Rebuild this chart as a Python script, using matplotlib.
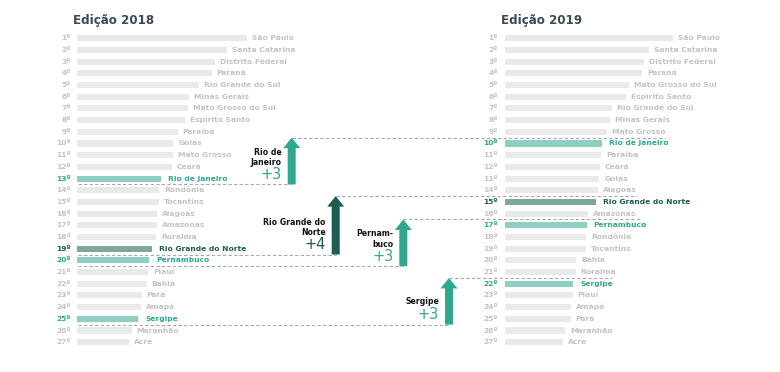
import matplotlib.pyplot as plt
from matplotlib.patches import FancyArrow

# ranking dos estados - edição 2018 e 2019 (escala arbitrária)
ufs_2018 = ["São Paulo", "Santa Catarina", "Distrito Federal", "Paraná", "Rio Grande do Sul",
            "Minas Gerais", "Mato Grosso do Sul", "Espírito Santo", "Paraíba", "Goiás",
            "Mato Grosso", "Ceará", "Rio de Janeiro", "Rondônia", "Tocantins", "Alagoas",
            "Amazonas", "Roraima", "Rio Grande do Norte", "Pernambuco", "Piauí", "Bahia",
            "Pará", "Amapá", "Sergipe", "Maranhão", "Acre"]
valores_2018 = [169.7, 149.7, 138.0, 134.7, 122.0, 112.0, 111.3, 108.0, 100.7, 96.3,
                95.7, 94.7, 83.7, 82.3, 82.3, 80.3, 79.7, 79.0, 74.7, 72.0,
                71.3, 69.7, 64.7, 64.0, 61.3, 54.7, 52.3]

ufs_2019 = ["São Paulo", "Santa Catarina", "Distrito Federal", "Paraná", "Mato Grosso do Sul",
            "Espírito Santo", "Rio Grande do Sul", "Minas Gerais", "Mato Grosso", "Rio de Janeiro",
            "Paraíba", "Ceará", "Goiás", "Alagoas", "Rio Grande do Norte", "Amazonas",
            "Pernambuco", "Rondônia", "Tocantins", "Bahia", "Roraima", "Sergipe", "Piauí",
            "Amapá", "Pará", "Maranhão", "Acre"]
valores_2019 = [168.3, 144.0, 139.0, 137.3, 124.3, 120.7, 106.7, 105.0, 101.7, 97.3,
                96.0, 95.0, 94.3, 93.3, 91.0, 83.3, 81.7, 81.0, 80.7, 71.0,
                70.7, 68.3, 67.7, 66.0, 65.7, 60.0, 58.3]

# estados em destaque e o rótulo da seta
destaques = ["Rio de Janeiro", "Rio Grande do Norte", "Pernambuco", "Sergipe"]
rotulos_seta = ["Rio de\nJaneiro", "Rio Grande do\nNorte", "Pernam-\nbuco", "Sergipe"]

# cores
cinza_barra = "#e9e9e9"
cinza_texto = "#c3c3c3"
verde = "#2fa88f"
verde_barra = "#8dd0c1"
escuro = "#1e5c53"
escuro_barra = "#7fa79d"
cor_titulo = "#3b4a56"
cor_dest = {"Rio de Janeiro": (verde_barra, verde, verde),
            "Pernambuco": (verde_barra, verde, verde),
            "Sergipe": (verde_barra, verde, verde),
            "Rio Grande do Norte": (escuro_barra, escuro, escuro)}

# layout (pixels no eixo x, posição no ranking no eixo y)
x0_2018, x0_2019 = 77, 505
xr_2018, xr_2019 = 71, 498
x_setas = [291.7, 335.7, 403.3, 449.0]
x_fim_traco = [665, 637, 641, 612]

fig = plt.figure(figsize=(7.8, 3.72), dpi=100)
ax = fig.add_axes([0, 0, 1, 1])
ax.set_xlim(0, 780)
ax.set_ylim(29.55, -2.276)
ax.axis("off")

fs = 5.4


def painel(ufs, valores, x0, xr, titulo):
    rank = list(range(1, len(ufs) + 1))
    cores_b = [cor_dest.get(u, (cinza_barra,))[0] for u in ufs]
    ax.barh(rank, valores, left=x0, height=0.52, color=cores_b)
    for r, u, v in zip(rank, ufs, valores):
        if u in cor_dest:
            c_txt, c_rank = cor_dest[u][1], cor_dest[u][2]
            gap = 7
        else:
            c_txt, c_rank = cinza_texto, cinza_texto
            gap = 5
        ax.text(xr, r, f"{r}º", ha="right", va="center", fontsize=fs,
                fontweight="bold", color=c_rank)
        ax.text(x0 + v + gap, r, u, ha="left", va="center", fontsize=fs,
                fontweight="bold", color=c_txt)
    ax.text(x0 - 4, -0.48, titulo, ha="left", va="center", fontsize=8.6,
            fontweight="bold", color=cor_titulo)


painel(ufs_2018, valores_2018, x0_2018, xr_2018, "Edição 2018")
painel(ufs_2019, valores_2019, x0_2019, xr_2019, "Edição 2019")

# setas de subida no ranking
for uf, rot, xs, xf in zip(destaques, rotulos_seta, x_setas, x_fim_traco):
    r18 = ufs_2018.index(uf) + 1
    r19 = ufs_2019.index(uf) + 1
    delta = r18 - r19
    cor = cor_dest[uf][1]
    y_base = r18 + 0.5
    y_topo = r19 - 0.5
    ax.plot([x0_2018 + 1, xs], [y_base, y_base], ls=(0, (3, 2)), lw=0.8, color="#a9a9a9")
    ax.plot([xs, xf], [y_topo, y_topo], ls=(0, (3, 2)), lw=0.8, color="#a9a9a9")
    ax.add_patch(FancyArrow(xs, y_base, 0, y_topo - y_base, width=8, head_width=17,
                            head_length=0.9, length_includes_head=True,
                            color=cor, lw=0))
    n_lin = rot.count("\n") + 1
    ax.text(xs - 10, y_base - 1.65 - 0.33 * n_lin, rot, ha="right", va="center",
            fontsize=5.6, fontweight="bold", color="#111111", linespacing=1.25)
    ax.text(xs - 10, y_base - 0.85, f"+{delta}", ha="right", va="center",
            fontsize=10.5, color=cor)

fig.savefig("out.png", dpi=100)
